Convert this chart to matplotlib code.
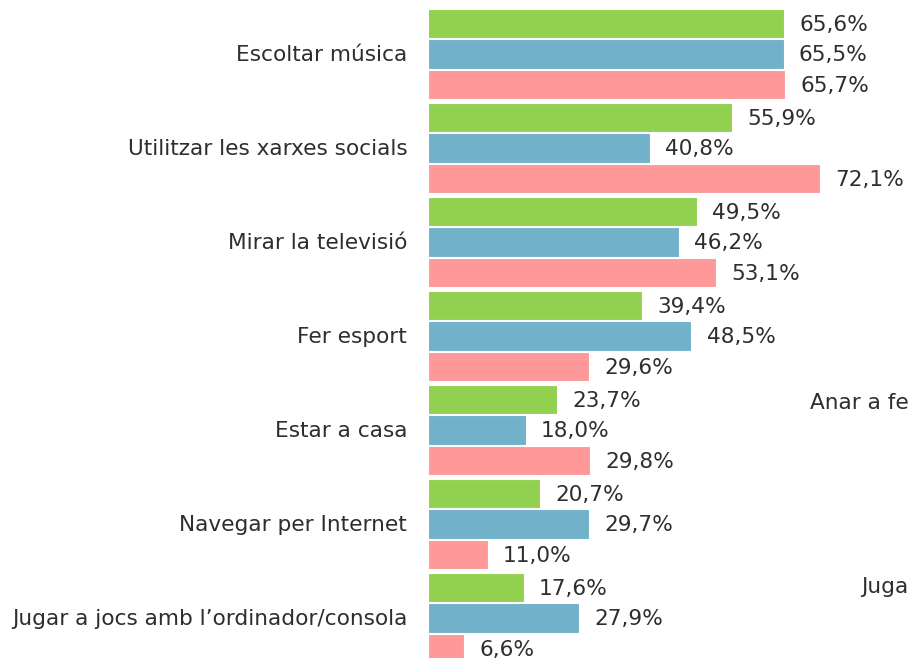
import matplotlib
import matplotlib.pyplot as plt
import numpy as np

matplotlib.use("agg")

categories = [
    "Escoltar música",
    "Utilitzar les xarxes socials",
    "Mirar la televisió",
    "Fer esport",
    "Estar a casa",
    "Navegar per Internet",
    "Jugar a jocs amb l\u2019ordinador/consola",
]
green_vals = [65.6, 55.9, 49.5, 39.4, 23.7, 20.7, 17.6]
blue_vals = [65.5, 40.8, 46.2, 48.5, 18.0, 29.7, 27.9]
pink_vals = [65.7, 72.1, 53.1, 29.6, 29.8, 11.0, 6.6]

colors = ["#92D050", "#71B1C9", "#FF9999"]
text_color = "#2E2E2E"
fs = 15.6

# clipped labels of a neighbouring chart, at the right edge
stray_labels = [("Anar a fe", 810, 403), ("Juga", 861, 587)]

W, H = 909, 658
fig = plt.figure(figsize=(W / 100, H / 100), dpi=100)

# axes placed in pixel units: bars start at x=428, full height
left_px = 428
ax = fig.add_axes([left_px / W, 0, 1 - left_px / W, 1])
px_per_unit = 5.43
ax.set_xlim(0, (W - left_px) / px_per_unit)

# one group = 94 px; blue bar centre of group 0 at y=54 px
pitch = 94.0
ax.set_ylim((H - 54) / pitch, -54 / pitch)

offset = 30.5 / pitch
bar_h = 29.5 / pitch
y = np.arange(len(categories))

for vals, col, off in zip([green_vals, blue_vals, pink_vals], colors, [-offset, 0, offset]):
    ax.barh(y + off, vals, height=bar_h, color=col, edgecolor="white", linewidth=0.8)
    for yi, v in zip(y, vals):
        ax.annotate(f"{v:.1f}%".replace(".", ","), (v, yi + off), xytext=(11, -1),
                    textcoords="offset points", va="center", ha="left",
                    fontsize=fs, color=text_color)

for yi, cat in zip(y, categories):
    ax.annotate(cat, (0, yi), xytext=(-15, -1), textcoords="offset points",
                va="center", ha="right", fontsize=fs, color=text_color,
                annotation_clip=False)

for s, xp, yp in stray_labels:
    fig.text(xp / W, 1 - yp / H, s, va="center", ha="left", fontsize=fs, color=text_color)

ax.axis("off")
fig.savefig("out.png", dpi=100, facecolor="white")
